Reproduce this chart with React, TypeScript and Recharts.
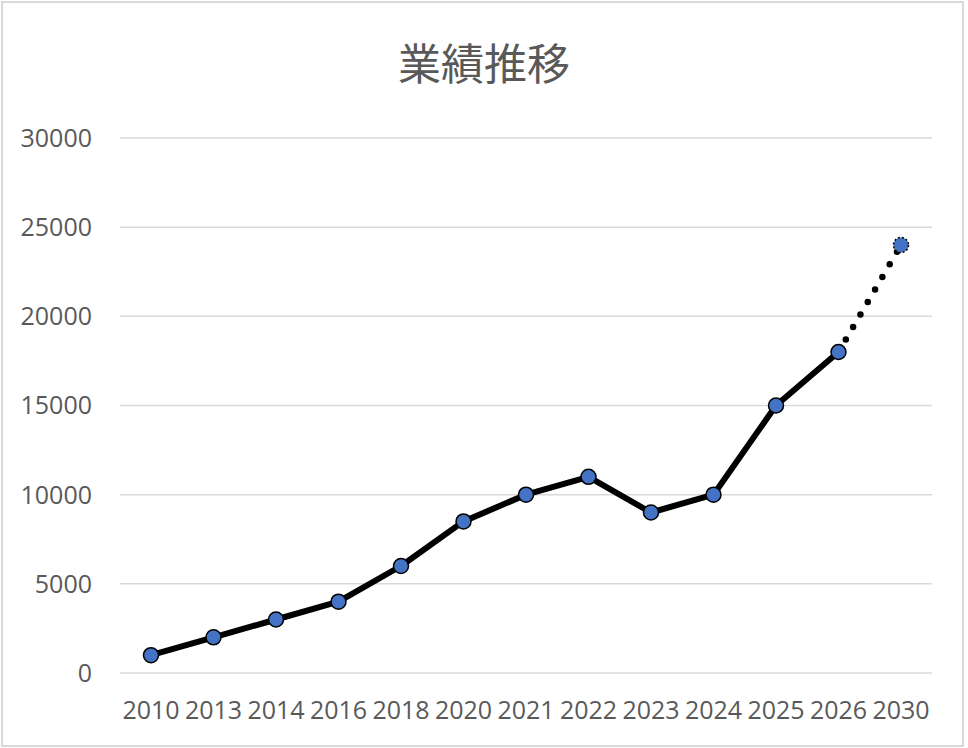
import { LineChart, Line, XAxis, YAxis, CartesianGrid } from 'recharts'

const years = ['2010', '2013', '2014', '2016', '2018', '2020', '2021', '2022', '2023', '2024', '2025', '2026', '2030']
const actual = [1000, 2000, 3000, 4000, 6000, 8500, 10000, 11000, 9000, 10000, 15000, 18000, null]
const forecast = [null, null, null, null, null, null, null, null, null, null, null, 18000, 24000]
const yTicks = [0, 5000, 10000, 15000, 20000, 25000, 30000]

const chartData = years.map((year, i) => ({
  year,
  actual: actual[i],
  forecast: forecast[i]
}))

const textColor = '#595959'
const tickFont = { fontSize: 25, fill: textColor, fontFamily: '"Open Sans", sans-serif' }

const ForecastDot = (props: any) => {
  const { cx, cy, index } = props
  if (index !== years.length - 1 || cx == null || cy == null) return <g key={index} />
  return (
    <circle
      key={index}
      cx={cx}
      cy={cy}
      r={7.5}
      fill="#4472C4"
      stroke="#000000"
      strokeWidth={1.5}
      strokeDasharray="2 2"
    />
  )
}

export default function App() {
  return (
    <div style={{ position: 'absolute', left: 0, top: 0, width: 968, height: 748, background: '#FFFFFF' }}>
      <div
        style={{
          position: 'absolute',
          left: 1,
          top: 1,
          width: 963,
          height: 746,
          boxSizing: 'border-box',
          border: '2px solid #D9D9D9'
        }}
      />
      <div
        style={{
          position: 'absolute',
          left: 0,
          top: 31,
          width: 968,
          textAlign: 'center',
          fontSize: 43,
          lineHeight: '60px',
          color: textColor,
          fontFamily: '"Noto Sans CJK JP", sans-serif'
        }}
      >
        業績推移
      </div>
      <div style={{ position: 'absolute', left: 0, top: 0 }}>
        <LineChart
          width={968}
          height={748}
          data={chartData}
          margin={{ top: 138, right: 36, bottom: 30, left: 0 }}
        >
          <CartesianGrid vertical={false} stroke="#D9D9D9" strokeWidth={1.5} />
          <XAxis
            dataKey="year"
            interval={0}
            axisLine={false}
            tickLine={false}
            tickSize={0}
            tickMargin={28}
            height={45}
            padding={{ left: 31, right: 31 }}
            tick={tickFont}
          />
          <YAxis
            domain={[0, 30000]}
            ticks={yTicks}
            axisLine={false}
            tickLine={false}
            tickSize={0}
            tickMargin={28}
            width={120}
            tick={tickFont}
          />
          <Line
            dataKey="forecast"
            stroke="#000000"
            strokeWidth={6.5}
            strokeDasharray="0 14.5"
            strokeLinecap="round"
            dot={ForecastDot}
            activeDot={false}
            connectNulls={false}
            isAnimationActive={false}
          />
          <Line
            dataKey="actual"
            stroke="#000000"
            strokeWidth={6}
            strokeLinejoin="round"
            dot={{ r: 7.5, fill: '#4472C4', stroke: '#000000', strokeWidth: 1.5 }}
            activeDot={false}
            isAnimationActive={false}
          />
        </LineChart>
      </div>
    </div>
  )
}
